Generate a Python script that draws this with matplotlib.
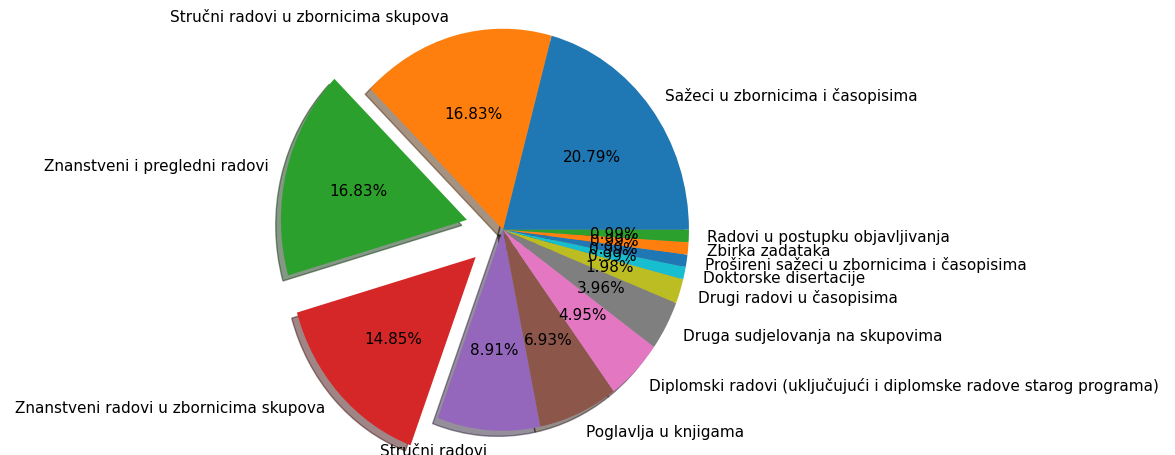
import matplotlib
matplotlib.use("Agg")
import matplotlib.pyplot as plt

labels = ["Sažeci u zbornicima i časopisima",
          "Stručni radovi u zbornicima skupova",
          "Znanstveni i pregledni radovi",
          "Znanstveni radovi u zbornicima skupova",
          "Stručni radovi",
          "Poglavlja u knjigama",
          "Diplomski radovi (uključujući i diplomske radove starog programa)",
          "Druga sudjelovanja na skupovima",
          "Drugi radovi u časopisima",
          "Doktorske disertacije",
          "Prošireni sažeci u zbornicima i časopisima",
          "Zbirka zadataka",
          "Radovi u postupku objavljivanja"]
counts = [21, 17, 17, 15, 9, 7, 5, 4, 2, 1, 1, 1, 1]
explode = [0, 0, 0.2, 0.2, 0, 0, 0, 0, 0, 0, 0, 0, 0]

fig = plt.figure(figsize=(11.75, 4.56), dpi=100)
# the reference pie is slightly taller than wide, so no equal aspect
ax = fig.add_axes([0.2302, -0.057, 0.3957, 1.102])
ax.pie(counts, labels=labels, explode=explode, autopct='%1.2f%%',
       shadow=True, startangle=0, textprops={'fontsize': 11})
ax.set_aspect('auto')

fig.savefig("out.png", dpi=100)
